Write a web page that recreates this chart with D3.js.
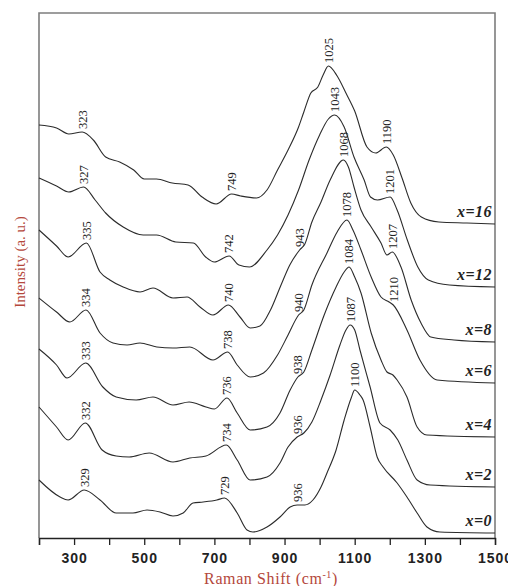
<!DOCTYPE html>
<html>
<head>
<meta charset="utf-8">
<script src="https://cdn.jsdelivr.net/npm/d3@7"></script>
<style>
  html, body { margin: 0; padding: 0; background: #fff; }
  svg { display: block; }
</style>
</head>
<body>
<div id="chart"></div>
<script>
// Raman spectra of the x = 0 … 16 series, stacked with vertical offsets.
// Each spectrum: [Raman shift (cm-1), relative intensity (a.u.)]

const spectrumX16 = [
  [200,19.8],[250,19.2],[285,18.0],[323,18.4],[355,16.8],[390,13.4],[430,12.4],[470,10.8],
  [500,9.0],[535,9.0],[580,8.2],[625,7.8],[665,5.4],[705,4.0],[749,6.0],[775,5.6],[820,5.2],
  [850,6.8],[880,10.8],[910,14.8],[940,19.4],[955,22.4],[975,26.2],[995,27.4],[1010,29.8],
  [1025,31.6],[1050,29.6],[1075,26.2],[1100,22.6],[1135,15.4],[1160,14.2],[1190,15.4],
  [1210,13.8],[1235,9.2],[1260,4.2],[1290,1.4],[1340,0.4],[1420,0.2],[1500,0]
];
const spectrumX12 = [
  [200,21.8],[250,20.2],[285,19.0],[327,20.0],[360,17.4],[390,14.8],[440,12.0],[497,10.4],
  [535,10.4],[590,9.0],[640,8.8],[675,6.0],[700,5.0],[742,6.2],[770,4.4],[800,4.0],
  [850,7.4],[880,10.4],[910,14.4],[940,19.4],[970,25.4],[1000,30.4],[1025,33.6],[1043,34.4],
  [1070,32.0],[1098,26.0],[1127,21.4],[1145,18.0],[1165,17.4],[1201,18.0],[1221,15.4],
  [1250,9.4],[1280,4.0],[1310,1.4],[1370,0.4],[1500,0]
];
const spectrumX8 = [
  [200,22.4],[250,19.2],[283,17.0],[335,19.8],[374,14.0],[402,12.4],[440,11.0],[488,10.0],
  [525,10.8],[582,8.8],[622,9.0],[659,7.0],[696,5.4],[740,7.4],[773,5.0],[802,2.8],
  [830,3.2],[860,6.4],[890,11.4],[915,15.4],[943,18.4],[958,19.6],[978,24.0],[1004,28.0],
  [1030,32.4],[1068,36.4],[1082,35.0],[1098,31.0],[1118,26.4],[1147,23.0],[1175,19.8],
  [1192,17.4],[1207,18.0],[1232,15.0],[1261,8.4],[1289,3.8],[1317,1.0],[1383,0.4],[1500,0]
];
const spectrumX6 = [
  [200,17.0],[250,14.2],[288,12.2],[334,14.6],[374,10.0],[411,8.0],[451,7.6],[488,8.0],
  [536,7.2],[582,7.0],[630,7.2],[696,4.6],[738,6.2],[765,3.6],[802,1.2],[840,2.0],
  [880,5.6],[910,9.6],[940,13.6],[955,14.6],[978,19.6],[1021,26.0],[1050,30.2],[1078,32.6],
  [1095,30.6],[1118,26.6],[1147,21.2],[1175,17.2],[1198,16.2],[1210,15.6],[1249,10.6],
  [1286,4.6],[1335,0.6],[1500,0]
];
const spectrumX4 = [
  [200,17.6],[250,14.4],[280,11.8],[333,14.8],[382,10.0],[420,8.0],[477,7.4],[525,8.0],
  [582,6.4],[628,7.0],[676,6.0],[700,5.6],[736,7.8],[765,4.8],[802,1.4],[850,2.0],
  [887,4.8],[916,9.4],[938,12.0],[955,13.0],[978,17.4],[1013,24.4],[1047,30.0],[1070,33.0],
  [1084,34.0],[1100,32.0],[1118,28.8],[1147,20.8],[1175,15.4],[1192,13.0],[1209,12.4],
  [1221,11.4],[1249,8.0],[1278,2.0],[1306,0.4],[1500,0]
];
const spectrumX2 = [
  [200,16.0],[250,12.0],[283,9.4],[332,12.8],[380,7.4],[420,6.2],[457,6.0],[514,6.8],
  [582,5.0],[630,5.8],[676,6.2],[734,8.4],[765,5.4],[802,1.4],[850,2.0],[887,4.8],
  [910,8.0],[936,10.0],[955,10.8],[978,13.0],[1004,17.4],[1030,22.4],[1058,28.4],[1075,31.4],
  [1087,32.4],[1100,31.4],[1115,27.4],[1144,20.0],[1172,12.8],[1201,11.4],[1223,9.4],
  [1249,5.4],[1278,1.4],[1315,0.4],[1500,0]
];
const spectrumX0 = [
  [200,10.6],[260,7.2],[283,6.6],[329,8.6],[374,6.6],[420,4.0],[468,4.0],[508,4.6],
  [545,4.2],[582,3.4],[611,4.0],[639,6.0],[668,6.2],[707,6.6],[729,7.0],[765,4.0],
  [793,0.6],[810,0.2],[850,1.2],[887,3.2],[916,5.2],[936,5.6],[958,5.6],[981,6.6],
  [1004,9.2],[1021,12.0],[1047,16.6],[1070,22.6],[1090,27.0],[1100,28.6],[1115,27.6],
  [1124,26.6],[1144,21.2],[1164,15.2],[1181,13.2],[1221,10.0],[1249,7.2],[1278,4.0],
  [1306,1.2],[1343,0.2],[1500,0]
];

// Series names, vertical offsets and labelled band positions (cm-1)
const seriesNames = ["x=16", "x=12", "x=8", "x=6", "x=4", "x=2", "x=0"];
const seriesOffsets = [62.8, 50.2, 39.2, 31.0, 20.2, 10.2, 1.0];
const seriesData = [spectrumX16, spectrumX12, spectrumX8, spectrumX6, spectrumX4, spectrumX2, spectrumX0];
const bandLabels = [
  [323, 749, 1025, 1190],
  [327, 742, 1043, 1201],
  [335, 740, 943, 1068, 1207],
  [334, 738, 940, 1078, 1210],
  [333, 736, 938, 1084],
  [332, 734, 936, 1087],
  [329, 729, 936, 1100]
];

// Axis ticks
const tickValues = d3.range(200, 1501, 100);
const tickLabels = [300, 500, 700, 900, 1100, 1300, 1500];

const W = 508, H = 586;
const svg = d3.select("#chart").append("svg").attr("width", W).attr("height", H);
svg.append("rect").attr("width", W).attr("height", H).attr("fill", "#fff");

const x = d3.scaleLinear().domain([200, 1500]).range([39, 495]);
const y = d3.scaleLinear().domain([0, 105]).range([538, 13]);

// Frame (left, top, right)
svg.append("path")
  .attr("d", `M${x(200)},${y(0)}V${y(105)}H${x(1500)}V${y(0)}`)
  .attr("fill", "none").attr("stroke", "#7d7d7d").attr("stroke-width", 1.6);

// Bottom axis
const labelSet = new Set(tickLabels);
const xAxis = d3.axisBottom(x)
  .tickValues(tickValues)
  .tickSize(7)
  .tickPadding(8)
  .tickFormat(d => labelSet.has(d) ? d : "");
const gx = svg.append("g").attr("transform", `translate(0,${y(0)})`).call(xAxis);
gx.select(".domain").attr("stroke", "#222").attr("stroke-width", 1.4);
gx.selectAll(".tick line").attr("stroke", "#222").attr("stroke-width", 1.3);
gx.selectAll(".tick text")
  .attr("fill", "#222")
  .style("font-family", "'Liberation Sans', Arial, sans-serif")
  .style("font-size", "14px")
  .style("font-weight", "bold")
  .style("letter-spacing", "1px");

// Spectra
const line = d3.line()
  .x(d => x(d[0]))
  .y(d => d[1])
  .curve(d3.curveMonotoneX);

function valueAt(data, wn) {
  for (let i = 1; i < data.length; i++) {
    if (wn <= data[i][0]) {
      const a = data[i - 1], b = data[i];
      const t = (wn - a[0]) / (b[0] - a[0]);
      return a[1] + t * (b[1] - a[1]);
    }
  }
  return data[data.length - 1][1];
}

seriesData.forEach((data, i) => {
  const off = seriesOffsets[i];
  svg.append("path")
    .datum(data.map(d => [d[0], y(d[1] + off)]))
    .attr("d", line)
    .attr("fill", "none")
    .attr("stroke", "#2b2b2b")
    .attr("stroke-width", 1.1)
    .attr("stroke-linejoin", "round");

  // Band position labels, written upward above each band
  bandLabels[i].forEach(wn => {
    const py = y(valueAt(data, wn) + off) - 3;
    svg.append("text")
      .attr("transform", `translate(${x(wn)},${py}) rotate(-90)`)
      .attr("text-anchor", "start")
      .attr("dy", "0.35em")
      .style("font-family", "'Liberation Serif', 'Times New Roman', serif")
      .style("font-size", "12.5px")
      .attr("fill", "#222")
      .text(wn);
  });

  // Series name at the right end of each trace
  svg.append("text")
    .attr("x", x(1500) - 3)
    .attr("y", y(off) - 7)
    .attr("text-anchor", "end")
    .style("font-family", "'Liberation Serif', 'Times New Roman', serif")
    .style("font-size", "16px")
    .style("font-weight", "bold")
    .style("font-style", "italic")
    .style("letter-spacing", "0.5px")
    .attr("fill", "#222")
    .text(seriesNames[i]);
});

// Axis titles
svg.append("text")
  .attr("x", 271).attr("y", 584)
  .attr("text-anchor", "middle")
  .style("font-family", "'Liberation Serif', 'Times New Roman', serif")
  .style("font-size", "16px")
  .style("letter-spacing", "0.6px")
  .attr("fill", "#b4473b")
  .html('Raman Shift (cm<tspan dy="-6" font-size="10px">-1</tspan><tspan dy="6">)</tspan>');

svg.append("text")
  .attr("transform", "translate(25,262) rotate(-90)")
  .attr("text-anchor", "middle")
  .style("font-family", "'Liberation Serif', 'Times New Roman', serif")
  .style("font-size", "15px")
  .attr("fill", "#b4473b")
  .text("Intensity (a. u.)");
</script>
</body>
</html>
